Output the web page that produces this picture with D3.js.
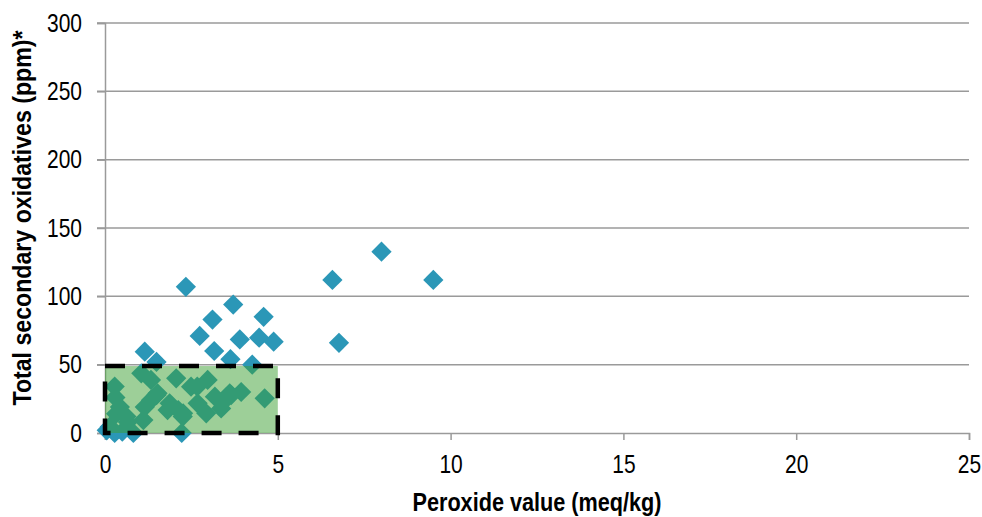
<!DOCTYPE html>
<html>
<head>
<meta charset="utf-8">
<script src="https://cdnjs.cloudflare.com/ajax/libs/d3/7.8.5/d3.min.js"></script>
<style>
  body { margin: 0; background: #fff; }
  text { font-family: "Liberation Sans", Arial, sans-serif; fill: #000; }
</style>
</head>
<body>
<script>
// peroxide value (meq/kg)
const peroxide = [
  2.34, 3.71, 3.11, 4.59, 2.74, 3.90, 4.46, 4.88, 3.16, 3.63, 4.26, 1.15, 1.49,
  6.58, 8.0, 9.5, 6.77,
  0.05, 0.28, 0.5, 0.82, 0.14, 0.3, 0.28, 0.32, 0.43, 0.62, 0.66, 1.05, 1.11,
  1.15, 1.33, 1.33, 1.49, 1.52, 1.81, 1.87, 2.06, 2.12, 2.22, 2.25, 2.26, 2.49,
  2.68, 2.67, 2.97, 2.93, 3.18, 3.36, 3.47, 3.61, 3.65, 3.94, 4.62
]
// total secondary oxidatives (ppm)
const oxidatives = [
  107, 94, 83, 85, 71, 68.5, 69.7, 66.8, 60, 54, 50, 59.5, 52,
  112, 132.7, 112, 66,
  2, 0, 1, 0, 4.6, 26, 34, 14, 19, 12, 8, 43.7, 9.5,
  19, 38.8, 24, 27.8, 29, 16.8, 21.7, 40, 16.8, 0, 12, 14.4, 33.9,
  21.7, 34, 38.8, 14.4, 26.6, 18, 24, 29, 27.8, 30, 25.4
]
const xTicks = [0, 5, 10, 15, 20, 25]
const yTicks = [0, 50, 100, 150, 200, 250, 300]
// highlighted region
const boxX = [0, 5]
const boxY = [0, 49]

const width = 982, height = 517
const svg = d3.select("body").append("svg")
    .attr("width", width)
    .attr("height", height)

const x = d3.scaleLinear().domain([0, 25]).range([105, 969])
const y = d3.scaleLinear().domain([0, 300]).range([433, 23])

const gridColor = "#9a9a9a"
const narrow = 0.84

// squeeze a text horizontally around its anchor, like a narrow font
function condense(sel, k) {
    sel.each(function() {
        const t = d3.select(this)
        const ax = +t.attr("x") || 0
        t.attr("transform", `translate(${ax},0) scale(${k},1) translate(${-ax},0)`)
    })
}

// horizontal gridlines
svg.selectAll(".grid")
    .data(yTicks.filter(d => d > 0))
    .join("line")
    .attr("x1", x(0) - 8)
    .attr("x2", x(25))
    .attr("y1", d => y(d))
    .attr("y2", d => y(d))
    .attr("stroke", gridColor)
    .attr("stroke-width", 1.5)

// y axis
const yAxis = svg.append("g")
    .attr("transform", `translate(${x(0)},0)`)
    .call(d3.axisLeft(y).tickValues(yTicks).tickSize(8).tickPadding(15))
yAxis.select(".domain").attr("stroke", gridColor).attr("stroke-width", 1.5)
yAxis.selectAll(".tick line").attr("stroke", gridColor).attr("stroke-width", 1.5)
yAxis.selectAll(".tick text")
    .attr("font-size", 25)
    .attr("font-family", null)
    .attr("fill", "#000")
    .call(condense, narrow)

// x axis
const xAxis = svg.append("g")
    .attr("transform", `translate(0,${y(0)})`)
    .call(d3.axisBottom(x).tickValues(xTicks).tickSize(7).tickPadding(15))
xAxis.select(".domain").attr("stroke", gridColor).attr("stroke-width", 1.5)
xAxis.selectAll(".tick line").attr("stroke", gridColor).attr("stroke-width", 1.5)
xAxis.selectAll(".tick text")
    .attr("font-size", 25)
    .attr("font-family", null)
    .attr("fill", "#000")
    .call(condense, narrow)

// diamonds
const points = peroxide.map((p, i) => ({ x: p, y: oxidatives[i] }))
const diamond = d3.symbol().type(d3.symbolSquare).size(205)
svg.append("g").selectAll("path")
    .data(points)
    .join("path")
    .attr("d", diamond)
    .attr("transform", d => `translate(${x(d.x)},${y(d.y)}) rotate(45)`)
    .attr("fill", "#2b97b7")

// green box on top
svg.append("rect")
    .attr("x", x(boxX[0]))
    .attr("y", y(boxY[1]))
    .attr("width", x(boxX[1]) - x(boxX[0]))
    .attr("height", y(boxY[0]) - y(boxY[1]))
    .attr("fill", "rgb(60,160,50)")
    .attr("fill-opacity", 0.5)
    .attr("stroke", "#000")
    .attr("stroke-width", 4.5)
    .attr("stroke-dasharray", "20,17")

// axis titles
svg.append("text")
    .attr("transform", `translate(31,218) rotate(-90)`)
    .attr("text-anchor", "middle")
    .attr("font-size", 25)
    .attr("font-weight", "bold")
    .attr("textLength", 375)
    .attr("lengthAdjust", "spacingAndGlyphs")
    .text("Total secondary oxidatives (ppm)*")

svg.append("text")
    .attr("x", (x(0) + x(25)) / 2)
    .attr("y", 511)
    .attr("text-anchor", "middle")
    .attr("font-size", 25)
    .attr("font-weight", "bold")
    .attr("textLength", 249)
    .attr("lengthAdjust", "spacingAndGlyphs")
    .text("Peroxide value (meq/kg)")
</script>
</body>
</html>
